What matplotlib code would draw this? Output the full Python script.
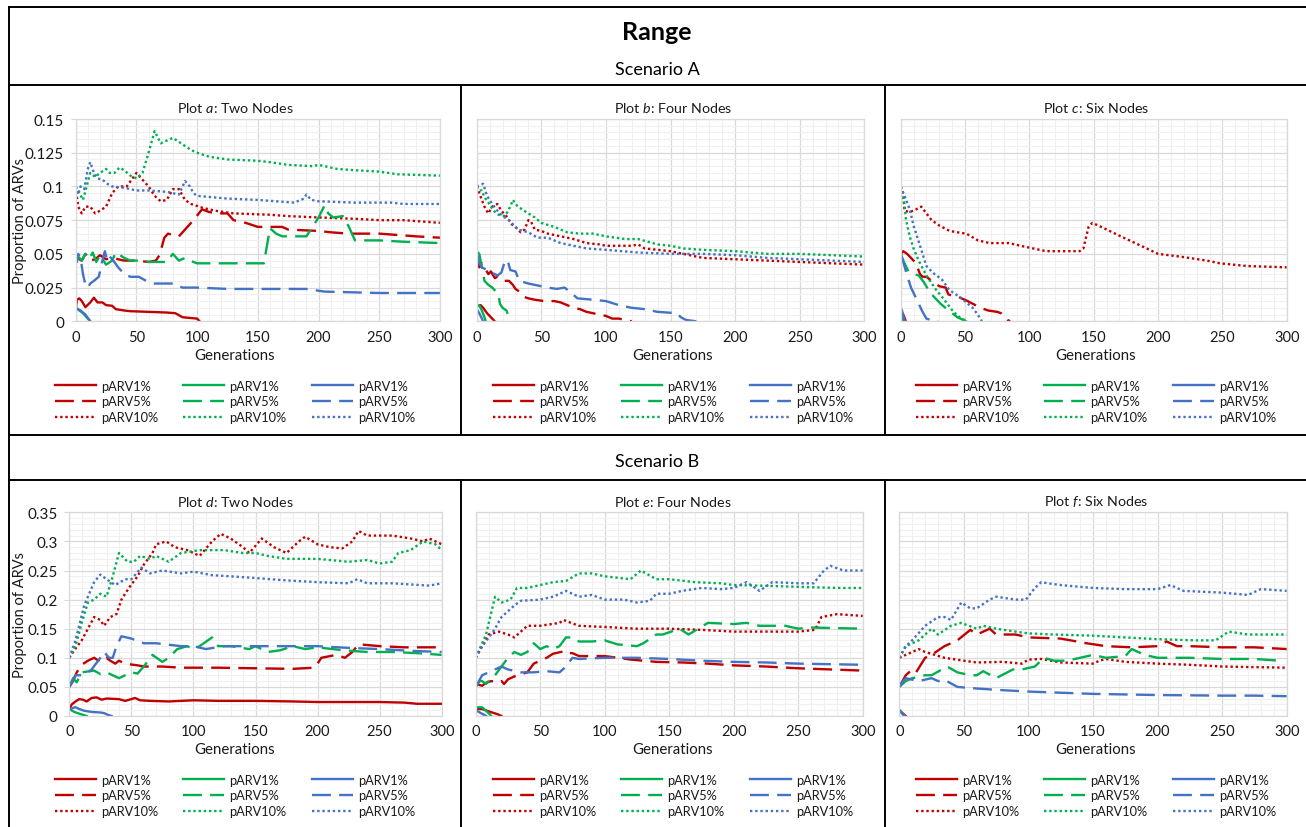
import matplotlib
matplotlib.use("Agg")
import matplotlib.pyplot as plt
from matplotlib.lines import Line2D
from matplotlib.ticker import MultipleLocator, FuncFormatter
import numpy as np

plt.rcParams['font.family'] = ['Lato', 'DejaVu Sans']
plt.rcParams['mathtext.fontset'] = 'custom'
plt.rcParams['mathtext.rm'] = 'Lato'
plt.rcParams['mathtext.it'] = 'Lato:italic'

# ---- data: (generation, proportion of ARVs) ----
# Scenario A, plot a (two nodes)
A_R1 = [(0, .009), (1, .016), (3, .017), (5, .015), (8, .0105), (12, .014), (15, .0175), (18, .014), (22, .014),
        (25, .012), (30, .0115), (33, .009), (40, .008), (45, .0075), (60, .007), (75, .0065), (82, .006),
        (88, .003), (100, .002), (102, 0)]
A_R5 = [(0, .05), (3, .046), (5, .045), (8, .05), (12, .045), (16, .046), (20, .049), (25, .046), (30, .047),
        (40, .045), (50, .045), (60, .044), (66, .045), (69, .049), (73, .062), (76, .065), (85, .063), (90, .068),
        (97, .075), (104, .083), (110, .081), (117, .08), (125, .08), (130, .075), (140, .073), (150, .07),
        (170, .07), (175, .068), (200, .067), (210, .066), (225, .065), (250, .065), (265, .064), (280, .063),
        (300, .062)]
A_R10 = [(0, .1), (2, .085), (5, .08), (8, .085), (12, .085), (16, .08), (20, .082), (25, .085), (30, .095),
         (35, .1), (42, .1), (46, .105), (50, .11), (55, .105), (60, .1), (65, .093), (70, .089), (75, .09),
         (80, .098), (85, .098), (90, .09), (95, .087), (105, .084), (115, .082), (130, .08), (160, .079),
         (175, .078), (200, .077), (230, .076), (250, .075), (270, .075), (300, .073)]
A_G1 = [(0, .01), (3, .008), (6, .006), (10, .002), (12, 0)]
A_G5 = [(0, .05), (3, .047), (5, .045), (8, .05), (11, .046), (14, .051), (17, .044), (20, .049), (25, .042),
        (30, .045), (33, .051), (40, .047), (45, .045), (55, .045), (60, .044), (75, .044), (80, .05), (85, .045),
        (90, .047), (97, .044), (100, .043), (155, .043), (160, .069), (165, .065), (170, .063), (190, .063),
        (195, .07), (200, .077), (205, .086), (208, .08), (212, .077), (220, .078), (225, .07), (230, .06),
        (250, .06), (270, .059), (300, .058)]
A_G10 = [(0, .1), (3, .095), (6, .09), (9, .1), (12, .11), (16, .107), (20, .11), (25, .113), (28, .11), (32, .11),
         (36, .114), (40, .112), (45, .108), (50, .106), (55, .11), (60, .125), (65, .141), (70, .132), (75, .134),
         (80, .136), (85, .133), (90, .13), (95, .127), (100, .125), (110, .122), (125, .12), (150, .119),
         (160, .118), (175, .116), (195, .115), (200, .116), (215, .113), (230, .112), (250, .111), (265, .109),
         (300, .108)]
A_B1 = [(0, .01), (4, .008), (8, .005), (12, 0)]
A_B5 = [(0, .05), (1, .044), (2, .05), (4, .047), (6, .035), (8, .027), (10, .025), (12, .028), (15, .03),
        (19, .033), (22, .045), (24, .052), (26, .045), (28, .048), (31, .045), (35, .04), (40, .035), (45, .033),
        (52, .033), (58, .03), (65, .028), (80, .028), (88, .025), (100, .025), (125, .024), (190, .024),
        (205, .022), (250, .021), (300, .021)]
A_B10 = [(0, .1), (2, .094), (4, .1), (7, .098), (10, .113), (12, .118), (15, .11), (18, .106), (22, .105),
         (26, .102), (30, .1), (40, .099), (50, .097), (60, .097), (75, .096), (85, .094), (88, .1), (90, .104),
         (94, .1), (97, .095), (100, .093), (125, .091), (150, .09), (180, .088), (188, .091), (190, .094),
         (194, .09), (200, .089), (230, .088), (260, .088), (270, .087), (300, .087)]

# Scenario A, plot b (four nodes)
B_R1 = [(0, .011), (3, .012), (5, .01), (8, .006), (11, .003), (14, 0)]
B_R5 = [(0, .05), (2, .04), (4, .043), (6, .04), (9, .035), (11, .037), (14, .032), (16, .033), (20, .03),
        (25, .03), (28, .027), (30, .024), (33, .022), (37, .018), (40, .017), (45, .016), (52, .015), (60, .015),
        (65, .014), (70, .012), (75, .01), (80, .009), (85, .007), (90, .006), (95, .005), (100, .004),
        (105, .002), (110, .002), (115, .001), (120, 0)]
B_R10 = [(0, .1), (2, .095), (4, .09), (6, .085), (9, .08), (12, .085), (16, .087), (19, .082), (23, .078),
         (27, .072), (30, .07), (34, .066), (37, .068), (40, .075), (42, .074), (45, .068), (50, .067), (55, .065),
         (65, .063), (75, .061), (85, .058), (95, .057), (100, .056), (120, .056), (125, .057), (130, .054),
         (150, .052), (160, .05), (175, .047), (200, .046), (225, .045), (250, .044), (275, .043), (300, .042)]
B_G1 = [(0, .011), (2, .012), (4, .008), (6, .003), (7, 0)]
B_G5 = [(0, .05), (1, .051), (2, .05), (4, .04), (5, .035), (6, .03), (9, .027), (12, .025), (15, .022),
        (17, .019), (18, .013), (20, .01), (23, .008), (25, .003), (26, 0)]
B_G10 = [(0, .1), (2, .097), (4, .097), (6, .092), (9, .088), (13, .082), (17, .079), (22, .078), (26, .085),
         (28, .09), (31, .086), (35, .083), (40, .08), (45, .077), (50, .073), (60, .07), (70, .066), (80, .065),
         (90, .065), (100, .063), (115, .061), (125, .061), (140, .057), (150, .056), (160, .054), (175, .053),
         (200, .052), (225, .05), (250, .05), (275, .049), (300, .048)]
B_B1 = [(0, .009), (2, .006), (4, .002), (5, 0)]
B_B5 = [(0, .05), (2, .043), (4, .04), (8, .038), (12, .036), (16, .034), (19, .036), (22, .045), (24, .045),
        (26, .038), (30, .037), (33, .03), (40, .028), (45, .027), (50, .026), (55, .025), (62, .024), (68, .025),
        (72, .022), (78, .017), (90, .016), (100, .015), (110, .012), (120, .01), (130, .009), (140, .007),
        (155, .006), (158, .003), (162, .001), (170, 0)]
B_B10 = [(0, .1), (3, .101), (5, .102), (8, .093), (12, .087), (16, .082), (20, .078), (25, .075), (28, .072),
         (32, .068), (40, .066), (47, .062), (55, .062), (65, .058), (75, .056), (85, .054), (100, .053),
         (125, .051), (150, .05), (175, .05), (200, .049), (225, .047), (250, .046), (275, .045), (300, .044)]

# Scenario A, plot c (six nodes)
C_R1 = [(0, .008), (2, .005), (4, 0)]
C_R5 = [(0, .05), (2, .052), (5, .05), (8, .047), (10, .045), (12, .043), (13, .04), (15, .035), (17, .033),
        (20, .033), (24, .03), (27, .028), (30, .026), (35, .025), (37, .02), (40, .019), (45, .018), (52, .015),
        (58, .012), (62, .01), (68, .008), (75, .007), (78, .006), (80, .004), (83, .001), (85, 0)]
C_R10 = [(0, .1), (2, .093), (3, .082), (7, .081), (12, .083), (16, .085), (20, .08), (24, .075), (30, .071),
         (38, .067), (44, .066), (51, .065), (60, .06), (69, .058), (84, .058), (98, .055), (113, .052),
         (139, .052), (142, .054), (146, .07), (149, .073), (158, .069), (171, .063), (189, .055), (200, .05),
         (217, .048), (238, .045), (248, .043), (269, .041), (300, .04)]
C_G1 = [(0, .005), (1, .003), (2, 0)]
C_G5 = [(0, .05), (2, .045), (6, .037), (10, .035), (14, .034), (18, .029), (23, .021), (31, .013), (36, .009),
        (44, .003), (51, 0)]
C_G10 = [(0, .1), (1, .094), (3, .087), (4, .076), (7, .063), (10, .054), (14, .045), (20, .034), (27, .024),
         (33, .017), (41, .007), (47, .002), (52, 0)]
C_B1 = [(0, .01), (1, .008), (2, .004), (3, 0)]
C_B5 = [(0, .05), (2, .044), (5, .034), (8, .025), (12, .017), (17, .007), (20, .002), (25, .0005), (29, 0)]
C_B10 = [(0, .1), (3, .093), (7, .083), (10, .071), (14, .059), (20, .041), (25, .036), (32, .031), (38, .023),
         (46, .018), (56, .01), (62, .002), (63, 0)]

# Scenario B, plot d (two nodes)
D_R1 = [(0, .012), (2, .02), (5, .025), (8, .029), (11, .028), (14, .025), (18, .031), (22, .032), (26, .028),
        (30, .03), (40, .029), (45, .026), (50, .029), (53, .031), (57, .027), (65, .026), (80, .025),
        (100, .027), (120, .026), (150, .026), (180, .025), (200, .024), (250, .024), (270, .023), (280, .021),
        (300, .021)]
D_R5 = [(0, .05), (3, .06), (6, .075), (10, .088), (15, .095), (20, .1), (25, .093), (30, .1), (33, .095),
        (37, .09), (40, .095), (45, .09), (55, .087), (60, .085), (75, .085), (90, .083), (120, .083), (150, .082),
        (180, .081), (197, .083), (200, .09), (203, .1), (215, .105), (222, .1), (228, .11), (233, .123),
        (240, .122), (250, .12), (270, .118), (300, .118)]
D_R10 = [(0, .1), (3, .11), (10, .13), (15, .15), (20, .17), (25, .165), (28, .155), (33, .17), (38, .175),
         (42, .2), (48, .22), (55, .24), (60, .26), (67, .28), (70, .295), (78, .3), (85, .29), (95, .285),
         (105, .275), (115, .3), (122, .313), (130, .305), (140, .29), (145, .28), (155, .305), (165, .29),
         (175, .28), (185, .3), (190, .308), (200, .295), (210, .29), (220, .288), (228, .3), (233, .318),
         (240, .31), (260, .31), (275, .305), (285, .3), (290, .305), (300, .295)]
D_G1 = [(0, .012), (4, .007), (8, .004), (14, 0)]
D_G5 = [(0, .05), (3, .065), (6, .058), (10, .075), (20, .078), (25, .072), (30, .075), (40, .065), (50, .075),
        (55, .073), (60, .085), (67, .105), (75, .093), (80, .1), (87, .115), (95, .12), (100, .115), (105, .12),
        (115, .135), (120, .12), (130, .12), (145, .115), (150, .12), (160, .11), (170, .113), (180, .12),
        (190, .115), (200, .118), (220, .113), (240, .11), (260, .11), (280, .108), (300, .105)]
D_G10 = [(0, .1), (5, .12), (10, .16), (15, .195), (20, .2), (25, .21), (30, .205), (35, .24), (40, .28),
         (47, .265), (52, .265), (57, .275), (65, .27), (70, .275), (80, .265), (90, .28), (105, .285),
         (125, .285), (140, .28), (150, .28), (160, .275), (175, .27), (200, .27), (225, .265), (240, .268),
         (250, .262), (260, .265), (265, .28), (275, .285), (285, .3), (295, .295), (300, .285)]
D_B1 = [(0, .01), (3, .014), (5, .015), (8, .012), (12, .009), (18, .007), (25, .006), (28, .005), (31, .002),
        (34, 0)]
D_B5 = [(0, .05), (5, .07), (10, .07), (15, .075), (18, .08), (25, .1), (28, .11), (32, .1), (35, .1), (38, .12),
        (42, .137), (50, .133), (60, .125), (70, .125), (90, .12), (100, .12), (110, .115), (125, .12),
        (150, .12), (175, .12), (200, .12), (225, .117), (250, .115), (275, .112), (300, .11)]
D_B10 = [(0, .1), (5, .13), (12, .19), (20, .23), (25, .243), (30, .235), (37, .225), (45, .235), (50, .235),
         (58, .255), (65, .245), (75, .25), (90, .245), (100, .248), (115, .242), (130, .24), (150, .237),
         (175, .233), (200, .23), (225, .228), (232, .235), (240, .228), (260, .228), (275, .226), (290, .224),
         (300, .228)]

# Scenario B, plot e (four nodes)
E_R1 = [(0, .012), (5, .012), (10, .008), (17, .003), (20, 0)]
E_R5 = [(0, .055), (5, .052), (8, .057), (12, .06), (18, .058), (20, .06), (22, .055), (25, .063), (30, .068),
        (40, .075), (45, .09), (50, .095), (55, .1), (60, .107), (70, .112), (73, .108), (75, .108), (80, .103),
        (100, .103), (120, .097), (140, .093), (160, .092), (180, .09), (200, .087), (225, .085), (250, .082),
        (275, .08), (300, .078)]
E_R10 = [(0, .1), (5, .12), (10, .14), (18, .145), (25, .14), (30, .135), (35, .145), (40, .155), (50, .155),
         (65, .16), (68, .165), (80, .155), (100, .153), (125, .15), (150, .15), (175, .148), (200, .145),
         (250, .145), (263, .148), (268, .17), (280, .175), (300, .172)]
E_G1 = [(0, .015), (5, .015), (10, .005), (12, 0)]
E_G5 = [(0, .05), (3, .06), (5, .06), (8, .055), (12, .065), (15, .07), (20, .085), (25, .1), (30, .11),
        (35, .105), (40, .11), (45, .125), (50, .115), (55, .12), (60, .115), (65, .12), (70, .135), (75, .135),
        (80, .128), (90, .128), (100, .13), (110, .123), (125, .12), (130, .125), (140, .14), (145, .14),
        (158, .15), (165, .14), (180, .16), (200, .158), (210, .16), (220, .155), (240, .155), (250, .15),
        (260, .152), (300, .15)]
E_G10 = [(0, .1), (8, .14), (15, .205), (20, .195), (27, .2), (32, .22), (40, .22), (50, .225), (60, .23),
         (70, .232), (80, .245), (90, .245), (100, .24), (120, .235), (128, .25), (140, .235), (150, .235),
         (170, .23), (190, .228), (200, .225), (220, .224), (250, .222), (280, .22), (300, .22)]
E_B1 = [(0, .01), (4, .005), (8, 0)]
E_B5 = [(0, .05), (5, .07), (10, .075), (15, .08), (20, .085), (25, .08), (35, .075), (45, .075), (55, .077),
        (65, .075), (70, .085), (75, .1), (80, .098), (100, .1), (125, .1), (150, .098), (175, .095), (200, .093),
        (225, .092), (250, .09), (275, .089), (300, .088)]
E_B10 = [(0, .1), (5, .12), (12, .14), (15, .15), (20, .17), (25, .18), (30, .19), (35, .198), (50, .2),
         (60, .205), (70, .215), (80, .205), (90, .208), (100, .2), (115, .2), (125, .195), (135, .198),
         (140, .21), (150, .21), (160, .215), (175, .22), (190, .218), (200, .22), (210, .23), (220, .215),
         (230, .23), (250, .228), (262, .228), (270, .25), (275, .258), (285, .25), (300, .25)]

# Scenario B, plot f (six nodes)
F_R1 = [(0, .01), (3, .004), (5, 0)]
F_R5 = [(0, .05), (5, .07), (10, .08), (13, .075), (20, .1), (25, .105), (35, .12), (45, .13), (55, .148),
        (60, .14), (65, .145), (70, .15), (75, .14), (90, .14), (100, .135), (125, .133), (145, .125),
        (160, .12), (180, .118), (200, .12), (207, .128), (215, .12), (225, .12), (250, .118), (275, .118),
        (300, .115)]
F_R10 = [(0, .1), (10, .11), (15, .115), (20, .11), (35, .1), (50, .095), (60, .092), (80, .093), (95, .09),
         (100, .097), (110, .098), (125, .092), (150, .09), (155, .095), (160, .098), (175, .093), (200, .09),
         (225, .088), (250, .085), (300, .083)]
F_G1 = [(0, .01), (2, .005), (4, 0)]
F_G5 = [(0, .05), (5, .06), (10, .065), (15, .067), (20, .07), (25, .07), (37, .085), (45, .075), (55, .07),
        (60, .07), (65, .077), (75, .065), (88, .08), (95, .08), (105, .085), (112, .1), (120, .095), (130, .095),
        (140, .1), (150, .105), (160, .1), (175, .103), (180, .115), (190, .105), (200, .1), (225, .1),
        (250, .098), (275, .098), (295, .095)]
F_G10 = [(0, .1), (5, .12), (15, .13), (25, .15), (30, .14), (40, .155), (48, .16), (60, .15), (65, .155),
         (75, .15), (90, .145), (100, .142), (120, .14), (150, .138), (175, .135), (200, .132), (230, .13),
         (245, .13), (255, .145), (270, .14), (300, .14)]
F_B1 = [(0, .01), (2, .005), (4, 0)]
F_B5 = [(0, .05), (3, .06), (5, .065), (15, .06), (25, .065), (30, .06), (35, .062), (45, .05), (55, .048),
        (75, .045), (100, .042), (125, .04), (150, .038), (175, .037), (200, .036), (250, .035), (275, .035),
        (300, .034)]
F_B10 = [(0, .1), (5, .12), (10, .13), (20, .155), (30, .17), (35, .17), (40, .165), (48, .195), (55, .185),
         (60, .185), (70, .2), (75, .205), (90, .2), (98, .2), (105, .22), (110, .23), (115, .228), (125, .225),
         (150, .22), (175, .218), (200, .218), (210, .225), (220, .215), (250, .212), (270, .208), (280, .218),
         (300, .215)]

series_labels = ['pARV1%', 'pARV5%', 'pARV10%']
colors = ['#C00000', '#00B050', '#4472C4']

# ---- layout (pixel coordinates of the 1306x828 canvas) ----
W, H = 1306, 828
fig = plt.figure(figsize=(W / 100, H / 100), dpi=100)


def fx(x):
    return x / W


def fy(y):
    return 1 - y / H


def hline(y, x0, x1):
    fig.add_artist(Line2D([fx(x0), fx(x1)], [fy(y), fy(y)], transform=fig.transFigure, color='black', lw=1.4))


def vline(x, y0, y1):
    fig.add_artist(Line2D([fx(x), fx(x)], [fy(y0), fy(y1)], transform=fig.transFigure, color='black', lw=1.4))


hline(8, 9, W)
hline(86, 9, W)
hline(436, 9, W)
hline(481, 9, W)
vline(9, 8, H)
vline(461, 86, 436)
vline(885, 86, 436)
vline(461, 481, H)
vline(885, 481, H)

fig.text(fx(657), fy(32), 'Range', ha='center', va='center', fontsize=18, fontweight='bold')
fig.text(fx(657), fy(70), 'Scenario A', ha='center', va='center', fontsize=13)
fig.text(fx(657), fy(462), 'Scenario B', ha='center', va='center', fontsize=13)

panels = [
    ('a', 'Two Nodes', [[A_R1, A_R5, A_R10], [A_G1, A_G5, A_G10], [A_B1, A_B5, A_B10]],
     (75.7, 120, 440, 322.3), 235, 0),
    ('b', 'Four Nodes', [[B_R1, B_R5, B_R10], [B_G1, B_G5, B_G10], [B_B1, B_B5, B_B10]],
     (476.7, 120, 864.3, 322.3), 673, 0),
    ('c', 'Six Nodes', [[C_R1, C_R5, C_R10], [C_G1, C_G5, C_G10], [C_B1, C_B5, C_B10]],
     (900.7, 120, 1286.7, 322.3), 1096, 0),
    ('d', 'Two Nodes', [[D_R1, D_R5, D_R10], [D_G1, D_G5, D_G10], [D_B1, D_B5, D_B10]],
     (69.3, 513.3, 441.7, 717), 235, 1),
    ('e', 'Four Nodes', [[E_R1, E_R5, E_R10], [E_G1, E_G5, E_G10], [E_B1, E_B5, E_B10]],
     (475.7, 513.3, 862.7, 717), 673, 1),
    ('f', 'Six Nodes', [[F_R1, F_R5, F_R10], [F_G1, F_G5, F_G10], [F_B1, F_B5, F_B10]],
     (899.3, 513.3, 1286.7, 717), 1096, 1),
]

row_title_y = [108, 502]
row_xlabel_y = [356.5, 750.5]
row_legend_y = [402.5, 796.5]
row_ymax = [0.15, 0.35]
row_major = [0.025, 0.05]
row_minor = [0.005, 0.01]
styles = ['-', (0, (8, 3.5)), (0, (1, 1.2))]
text_col = '#1a1a1a'

for letter, name, data, (x0, y0, x1, y1), cx, row in panels:
    ax = fig.add_axes([fx(x0), fy(y1), fx(x1) - fx(x0), fy(y0) - fy(y1)])
    for col, group in zip(colors, data):
        for ls, lab, pts in zip(styles, series_labels, group):
            g = [p[0] for p in pts]
            v = [p[1] for p in pts]
            ax.plot(g, v, color=col, lw=1.7, linestyle=ls, label=lab, solid_joinstyle='round')
    ax.set_xlim(0, 300)
    ax.set_ylim(0, row_ymax[row])
    ax.xaxis.set_major_locator(MultipleLocator(50))
    ax.xaxis.set_minor_locator(MultipleLocator(10))
    ax.yaxis.set_major_locator(MultipleLocator(row_major[row]))
    ax.yaxis.set_minor_locator(MultipleLocator(row_minor[row]))
    ax.yaxis.set_major_formatter(FuncFormatter(lambda v, p: f'{v:g}'))
    ax.grid(which='major', color='#D9D9D9', lw=0.9)
    ax.grid(which='minor', color='#F0F0F0', lw=0.8)
    ax.set_axisbelow(True)
    for s in ax.spines.values():
        s.set_color('#D9D9D9')
        s.set_linewidth(0.9)
    ax.tick_params(axis='x', which='both', length=0, pad=6, labelsize=10.5, labelcolor=text_col)
    ax.tick_params(axis='y', which='minor', length=0)
    if letter in ('a', 'd'):
        ax.tick_params(axis='y', which='major', length=3.5, color='#D9D9D9', pad=5, labelsize=11,
                       labelcolor=text_col)
        fig.text(fx(20), fy((y0 + y1) / 2), 'Proportion of ARVs', rotation=90, ha='center', va='center',
                 fontsize=10.5, color=text_col)
    else:
        ax.tick_params(axis='y', which='both', length=0, labelleft=False)

    fig.text(fx(cx), fy(row_title_y[row]), f'Plot $\\it{{{letter}}}$: {name}', ha='center', va='center',
             fontsize=10.3, color=text_col)
    fig.text(fx(cx), fy(row_xlabel_y[row]), 'Generations', ha='center', va='center', fontsize=10.8,
             color=text_col)
    ax.legend(loc='center', bbox_to_anchor=(fx(cx), fy(row_legend_y[row])), bbox_transform=fig.transFigure,
              ncol=3, frameon=False, fontsize=9.2, handlelength=3.2, handletextpad=0.4, columnspacing=2.0,
              labelspacing=0.3, borderpad=0, labelcolor=text_col)

fig.savefig('out.png', dpi=100)
